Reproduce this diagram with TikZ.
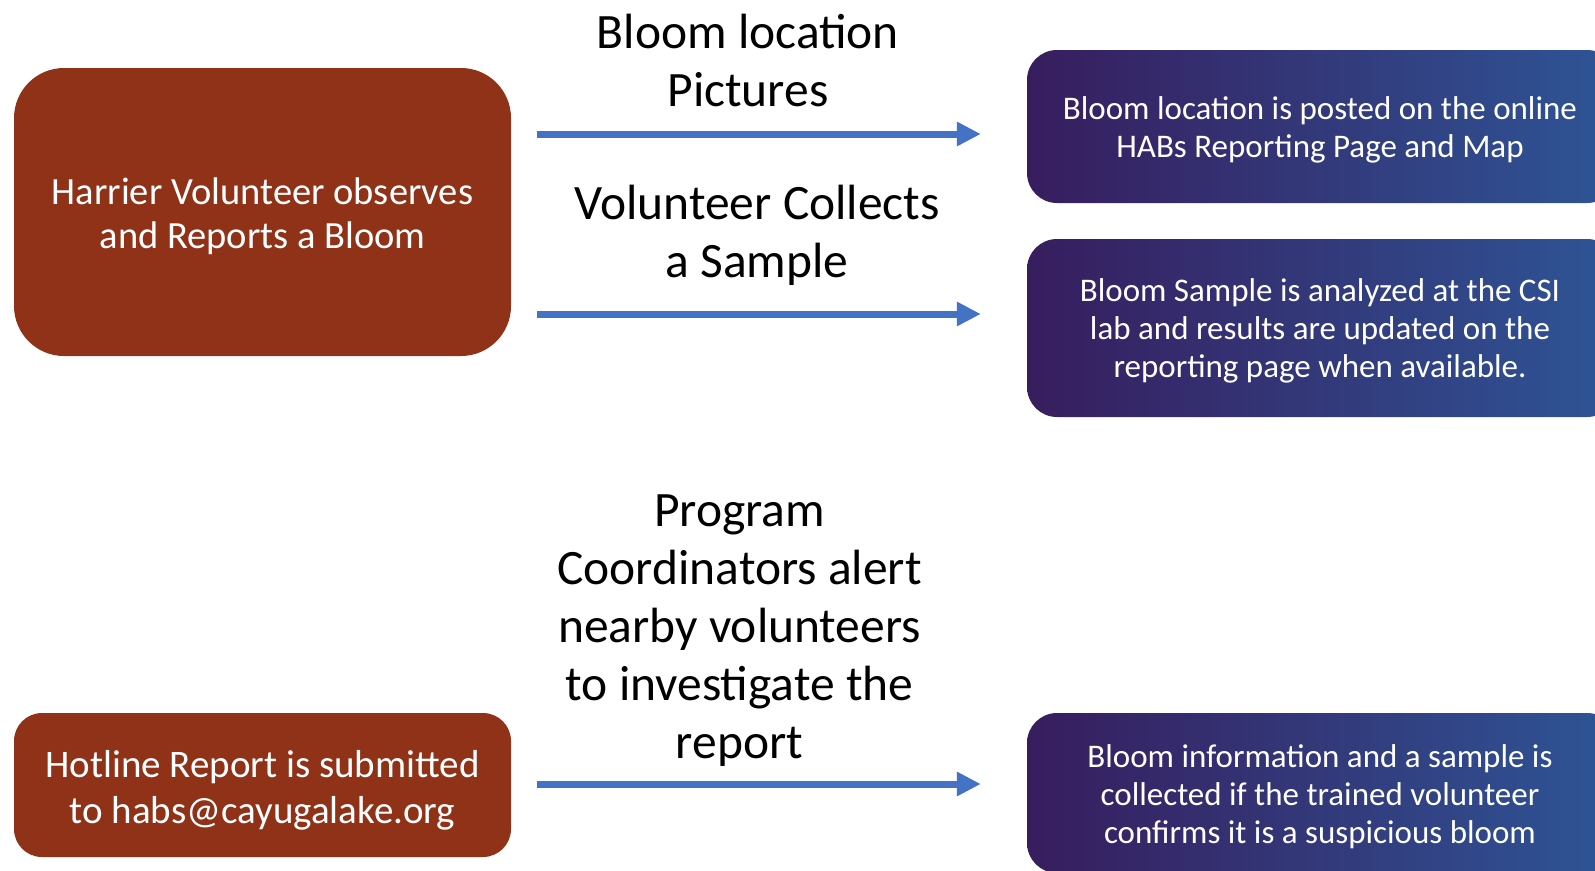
\documentclass[tikz,border=0pt]{standalone}
\usepackage{fontspec}
\setmainfont{Carlito}
\usepackage{tikz}
\usetikzlibrary{arrows.meta, positioning}

\definecolor{rust}{RGB}{143,50,24}
\definecolor{deeppurple}{RGB}{55,29,94}
\definecolor{steelblue}{RGB}{46,85,150}
\definecolor{arrowblue}{RGB}{68,114,196}

\begin{document}
\begin{tikzpicture}[x=1pt, y=-1pt,
			redbox/.style={fill=rust, text=white, align=center, inner sep=0pt},
			bluebox/.style={left color=deeppurple, right color=steelblue, text=white,
				align=center, inner sep=0pt, minimum width=590pt, rounded corners=30pt},
			bluetext/.style={font=\fontsize{33}{38}\selectfont},
			caption/.style={align=center, text=black, font=\fontsize{49.5}{58}\selectfont},
			flow/.style={-{Triangle[length=24pt, width=23pt]}, arrowblue, line width=7pt,
				shorten <=26pt, shorten >=46pt}]

	\clip (0,0) rectangle (1595,870);

	% left column
	\node[redbox, minimum width=497pt, minimum height=288pt, rounded corners=50pt] (observe) at (262.5,212) {};
	\node[text=white, align=center, font=\fontsize{38.5}{44}\selectfont] (observetext) at (262.5,216)
		{Harrier Volunteer observes\\and Reports a Bloom};
	\node[redbox, minimum width=497pt, minimum height=144pt, rounded corners=28pt] (hotline) at (262.5,785) {};
	\node[text=white, align=center, font=\fontsize{39}{46}\selectfont] (hotlinetext) at (262.5,790)
		{Hotline Report is submitted\\to habs@cayugalake.org};

	% right column
	\node[bluebox, minimum height=153pt] (posted) at (1322,126.5) {};
	\node[text=white, align=center, bluetext] (postedtext) at (1320,129.5)
		{Bloom location is posted on the online\\HABs Reporting Page and Map};
	\node[bluebox, minimum height=178pt] (analyzed) at (1322,328) {};
	\node[text=white, align=center, bluetext] (analyzedtext) at (1320,331)
		{Bloom Sample is analyzed at the CSI\\lab and results are updated on the\\reporting page when available.};
	\node[bluebox, minimum height=160pt] (confirmed) at (1322,793) {};
	\node[text=white, align=center, bluetext] (confirmedtext) at (1320,797)
		{Bloom information and a sample is\\collected if the trained volunteer\\confirms it is a suspicious bloom};

	% captions above the arrows
	\node[caption] (pictures) at (748,60) {Bloom location\\Pictures};
	\node[caption] (collects) at (757,235) {Volunteer Collects\\a Sample};
	\node[caption] (alert) at (739.5,631) {Program\\Coordinators alert\\nearby volunteers\\to investigate the\\report};

	% arrows
	\coordinate (lane1) at (0,134);
	\coordinate (lane2) at (0,314);
	\coordinate (lane3) at (0,784);
	\draw[flow] (observe.east |- lane1) -- (posted.west |- lane1);
	\draw[flow] (observe.east |- lane2) -- (analyzed.west |- lane2);
	\draw[flow] (hotline.east |- lane3) -- (confirmed.west |- lane3);
\end{tikzpicture}
\end{document}
